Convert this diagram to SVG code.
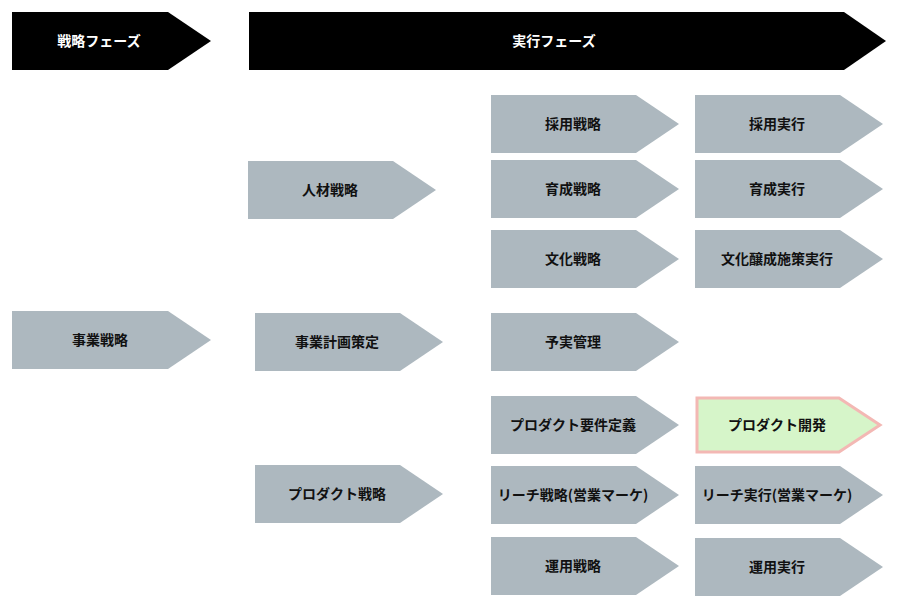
<svg xmlns="http://www.w3.org/2000/svg" width="906" height="612" viewBox="0 0 906 612">
<style>
.hdr{fill:#000}
.n{fill:#adb8bf}
.hl{fill:#d6f5c9;stroke:#f3b8b4;stroke-width:3}
text{font-family:"Noto Sans CJK JP","Noto Sans",sans-serif;font-size:14px;font-weight:bold;text-anchor:middle;fill:#111}
.ht{fill:#fff}
</style>
<rect width="906" height="612" fill="#fff"/>
<g id="phase-strategy"><polygon class="hdr" points="12,12 168,12 211,41 168,70 12,70"/><text class="ht" x="99" y="46">戦略フェーズ</text></g>
<g id="phase-execution"><polygon class="hdr" points="249,12 844,12 886,41 844,70 249,70"/><text class="ht" x="554" y="46">実行フェーズ</text></g>
<g id="jigyo-senryaku"><polygon class="n" points="12,311 168,311 211,340 168,369 12,369"/><text x="100" y="345">事業戦略</text></g>
<g id="jinzai-senryaku"><polygon class="n" points="248,161 393,161 436,190 393,219 248,219"/><text x="330" y="195">人材戦略</text></g>
<g id="jigyo-keikaku"><polygon class="n" points="255,313 400,313 443,342 400,371 255,371"/><text x="337" y="347">事業計画策定</text></g>
<g id="product-senryaku"><polygon class="n" points="255,465 400,465 443,494 400,523 255,523"/><text x="337" y="499">プロダクト戦略</text></g>
<g id="saiyo-senryaku"><polygon class="n" points="491,95 636,95 679,124 636,153 491,153"/><text x="573" y="129">採用戦略</text></g>
<g id="ikusei-senryaku"><polygon class="n" points="491,160 636,160 679,189 636,218 491,218"/><text x="573" y="194">育成戦略</text></g>
<g id="bunka-senryaku"><polygon class="n" points="491,230 636,230 679,259 636,288 491,288"/><text x="573" y="264">文化戦略</text></g>
<g id="yojitsu"><polygon class="n" points="491,313 636,313 679,342 636,371 491,371"/><text x="573" y="347">予実管理</text></g>
<g id="product-yoken"><polygon class="n" points="491,396 636,396 679,425 636,454 491,454"/><text x="573" y="430">プロダクト要件定義</text></g>
<g id="reach-senryaku"><polygon class="n" points="491,466 636,466 679,495 636,524 491,524"/><text x="573" y="500">リーチ戦略(営業マーケ)</text></g>
<g id="unyo-senryaku"><polygon class="n" points="491,537 636,537 679,566 636,595 491,595"/><text x="573" y="571">運用戦略</text></g>
<g id="saiyo-jikko"><polygon class="n" points="695,95 840,95 883,124 840,153 695,153"/><text x="777" y="129">採用実行</text></g>
<g id="ikusei-jikko"><polygon class="n" points="695,160 840,160 883,189 840,218 695,218"/><text x="777" y="194">育成実行</text></g>
<g id="bunka-jikko"><polygon class="n" points="695,230 840,230 883,259 840,288 695,288"/><text x="777" y="264">文化醸成施策実行</text></g>
<g id="product-kaihatsu"><polygon class="hl" points="697,398 839,398 880,425 839,452 697,452"/><text x="777" y="430">プロダクト開発</text></g>
<g id="reach-jikko"><polygon class="n" points="695,466 840,466 883,495 840,524 695,524"/><text x="777" y="500">リーチ実行(営業マーケ)</text></g>
<g id="unyo-jikko"><polygon class="n" points="695,538 840,538 883,567 840,596 695,596"/><text x="777" y="572">運用実行</text></g>
<g id="connectors"></g>
</svg>
